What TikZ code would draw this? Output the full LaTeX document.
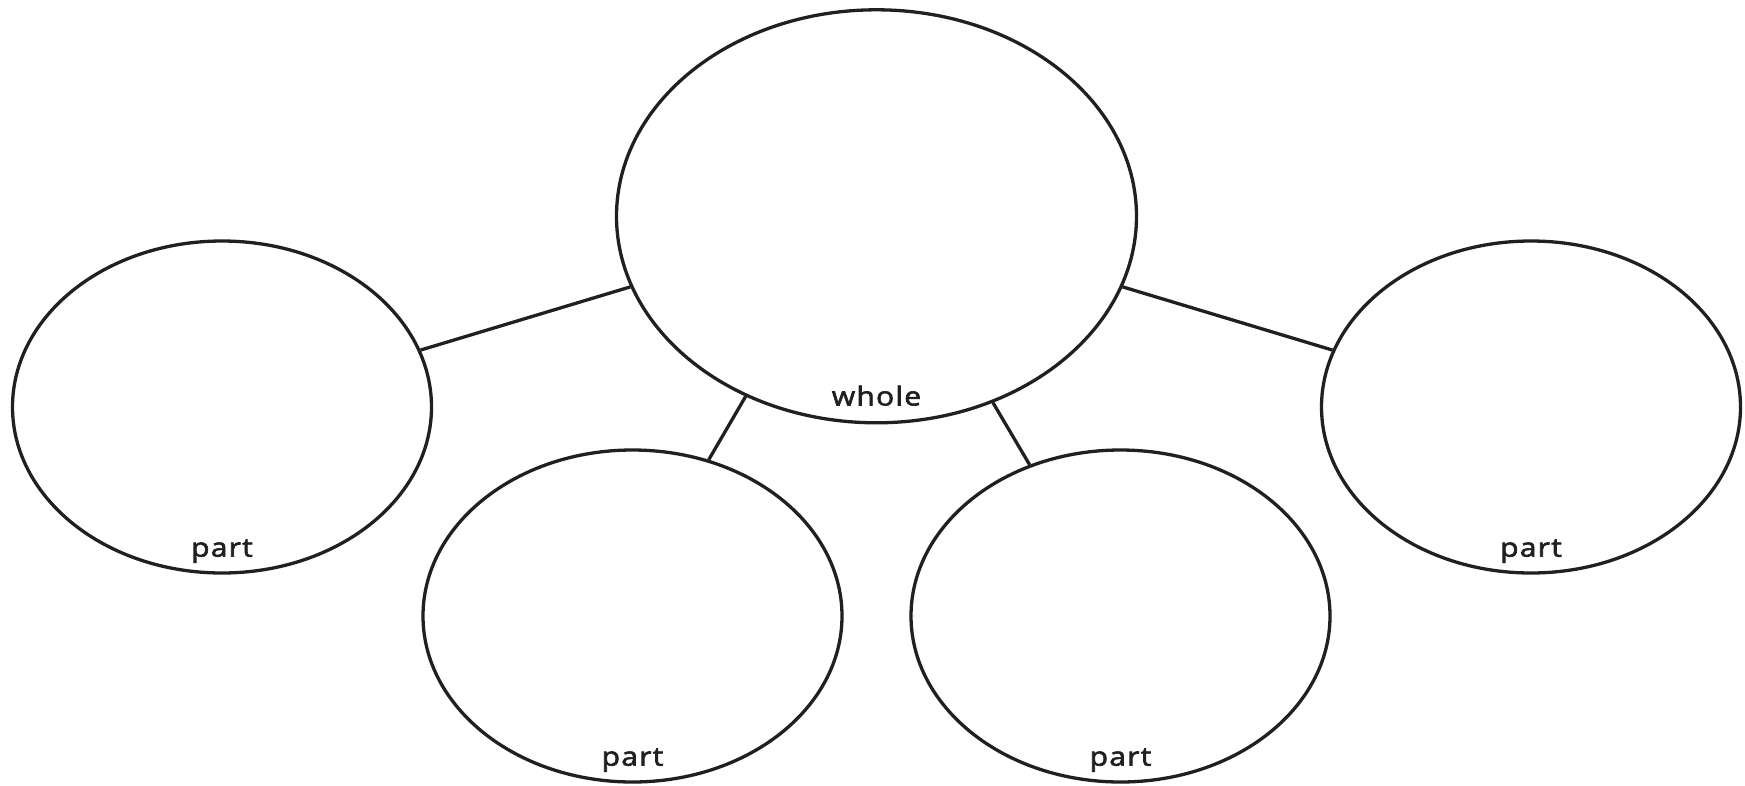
\documentclass[tikz,border=0pt]{standalone}
\usepackage{fontspec}
\setmainfont{Open Sans}[FakeStretch=1.15, FakeBold=2.5, LetterSpace=5]
\usetikzlibrary{shapes.geometric}
\definecolor{ink}{HTML}{231F20}
\tikzset{
  bubble/.style={draw=ink, line width=3.3pt, ellipse, inner sep=0pt,
                 minimum width=419pt, minimum height=332pt},
  bigbubble/.style={bubble, minimum width=520pt, minimum height=413pt},
  link/.style={draw=ink, line width=3.3pt},
  tag/.style={anchor=base, text=ink, inner sep=0pt,
              font=\fontsize{26}{31}\selectfont},
}
\begin{document}
\begin{tikzpicture}[x=1pt,y=-1pt]
\useasboundingbox (0,0) rectangle (1745,785);

% whole and its four parts
\node[bigbubble] (W)  at (876.5,216.3) {};
\node[bubble]    (L)  at (222,407)     {};
\node[bubble]    (R)  at (1531,407)    {};
\node[bubble]    (BL) at (632.5,616)   {};
\node[bubble]    (BR) at (1120.5,616)  {};

% connectors
\draw[link] (L.16)   -- (W.196);
\draw[link] (R.164)  -- (W.344);
\draw[link] (BL.64)  -- (W.234);
\draw[link] (BR.121) -- (W.302);

% labels near the bottom of each bubble
\node[tag] (tW)  at ([yshift=19pt]W.south)  {whole};
\node[tag] (tL)  at ([yshift=18pt]L.south)  {part};
\node[tag] (tR)  at ([yshift=18pt]R.south)  {part};
\node[tag] (tBL) at ([yshift=18pt]BL.south) {part};
\node[tag] (tBR) at ([yshift=18pt]BR.south) {part};
\end{tikzpicture}
\end{document}
